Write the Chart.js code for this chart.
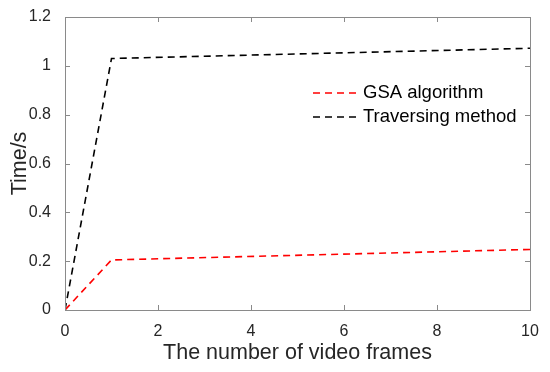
<!DOCTYPE html>
<html>
<head>
<meta charset="utf-8">
<script src="https://cdn.jsdelivr.net/npm/chart.js@4/dist/chart.umd.min.js"></script>
<style>
  html, body { margin: 0; padding: 0; background: #fff; }
  #wrap { width: 550px; height: 372px; }
</style>
</head>
<body>
<div id="wrap"><canvas id="myChart"></canvas></div>
<script>
// values
const frames = [0, 1, 10];
const gsaTimes = [0, 0.205, 0.248];
const travTimes = [0, 1.03, 1.072];
const seriesNames = ["GSA algorithm", "Traversing method"];
const xTicks = [0, 2, 4, 6, 8, 10];
const yTicks = [0, 0.2, 0.4, 0.6, 0.8, 1, 1.2];

const axisColor = "#8a8a8a";
const textColor = "#262626";
const fontName = "'Liberation Sans', Arial, sans-serif";

const toPoints = (xs, ys) => xs.map((x, i) => ({ x: x, y: ys[i] }));

// MATLAB-style box with ticks pointing inward on all four sides
const boxPlugin = {
  id: "boxTicks",
  afterDraw(chart) {
    const ctx = chart.ctx;
    const a = chart.chartArea;
    const xs = chart.scales.x;
    const ys = chart.scales.y;
    const len = 5;
    ctx.save();
    ctx.strokeStyle = axisColor;
    ctx.lineWidth = 1;
    ctx.strokeRect(a.left + 0.5, a.top + 0.5, a.right - a.left, a.bottom - a.top);
    ctx.beginPath();
    xTicks.forEach(v => {
      const px = Math.round(xs.getPixelForValue(v)) + 0.5;
      ctx.moveTo(px, a.bottom); ctx.lineTo(px, a.bottom - len);
      ctx.moveTo(px, a.top); ctx.lineTo(px, a.top + len);
    });
    yTicks.forEach(v => {
      const py = Math.round(ys.getPixelForValue(v)) + 0.5;
      ctx.moveTo(a.left, py); ctx.lineTo(a.left + len, py);
      ctx.moveTo(a.right, py); ctx.lineTo(a.right - len, py);
    });
    ctx.stroke();

    // legend inside the plot
    const lx = 313, ly0 = 93, gap = 24;
    chart.data.datasets.forEach((ds, i) => {
      const y = ly0 + i * gap;
      ctx.beginPath();
      ctx.setLineDash(ds.borderDash);
      ctx.strokeStyle = ds.borderColor;
      ctx.lineWidth = ds.borderWidth;
      ctx.moveTo(lx, y); ctx.lineTo(lx + 44, y);
      ctx.stroke();
      ctx.setLineDash([]);
      ctx.fillStyle = "#000";
      ctx.font = "18.5px " + fontName;
      ctx.textBaseline = "middle";
      ctx.fillText(ds.label, lx + 50, y);
    });
    ctx.restore();
  }
};

const ctx = document.getElementById("myChart").getContext("2d");
const myChart = new Chart(ctx, {
  type: "line",
  data: {
    datasets: [
      {
        label: seriesNames[0],
        data: toPoints(frames, gsaTimes),
        borderColor: "#ff0000",
        borderWidth: 1.6,
        borderDash: [7, 5],
        pointRadius: 0,
        tension: 0,
        fill: false
      },
      {
        label: seriesNames[1],
        data: toPoints(frames, travTimes),
        borderColor: "#000000",
        borderWidth: 1.6,
        borderDash: [7, 5],
        pointRadius: 0,
        tension: 0,
        fill: false
      }
    ]
  },
  options: {
    responsive: true,
    maintainAspectRatio: false,
    animation: false,
    layout: { padding: { left: 0, right: 20, top: 17, bottom: 0 } },
    plugins: {
      legend: { display: false },
      tooltip: { enabled: false }
    },
    scales: {
      x: {
        type: "linear",
        min: 0,
        max: 10,
        afterBuildTicks: s => { s.ticks = xTicks.map(v => ({ value: v })); },
        afterFit: s => { s.height = 62; },
        grid: { display: false },
        border: { display: false },
        ticks: {
          color: textColor,
          font: { family: fontName, size: 16 },
          padding: 4,
          maxRotation: 0
        },
        title: {
          display: true,
          text: "The number of video frames",
          color: textColor,
          font: { family: fontName, size: 21.5 },
          padding: { top: 0, bottom: 6 }
        }
      },
      y: {
        type: "linear",
        min: 0,
        max: 1.2,
        afterBuildTicks: s => { s.ticks = yTicks.map(v => ({ value: v })); },
        afterFit: s => { s.width = 65; },
        grid: { display: false },
        border: { display: false },
        ticks: {
          color: textColor,
          font: { family: fontName, size: 16 },
          padding: 6,
          callback: v => String(Number(v.toFixed(1)))
        },
        title: {
          display: true,
          text: "Time/s",
          color: textColor,
          font: { family: fontName, size: 21.5 },
          padding: { top: 7, bottom: 0 }
        }
      }
    }
  },
  plugins: [boxPlugin]
});
</script>
</body>
</html>
